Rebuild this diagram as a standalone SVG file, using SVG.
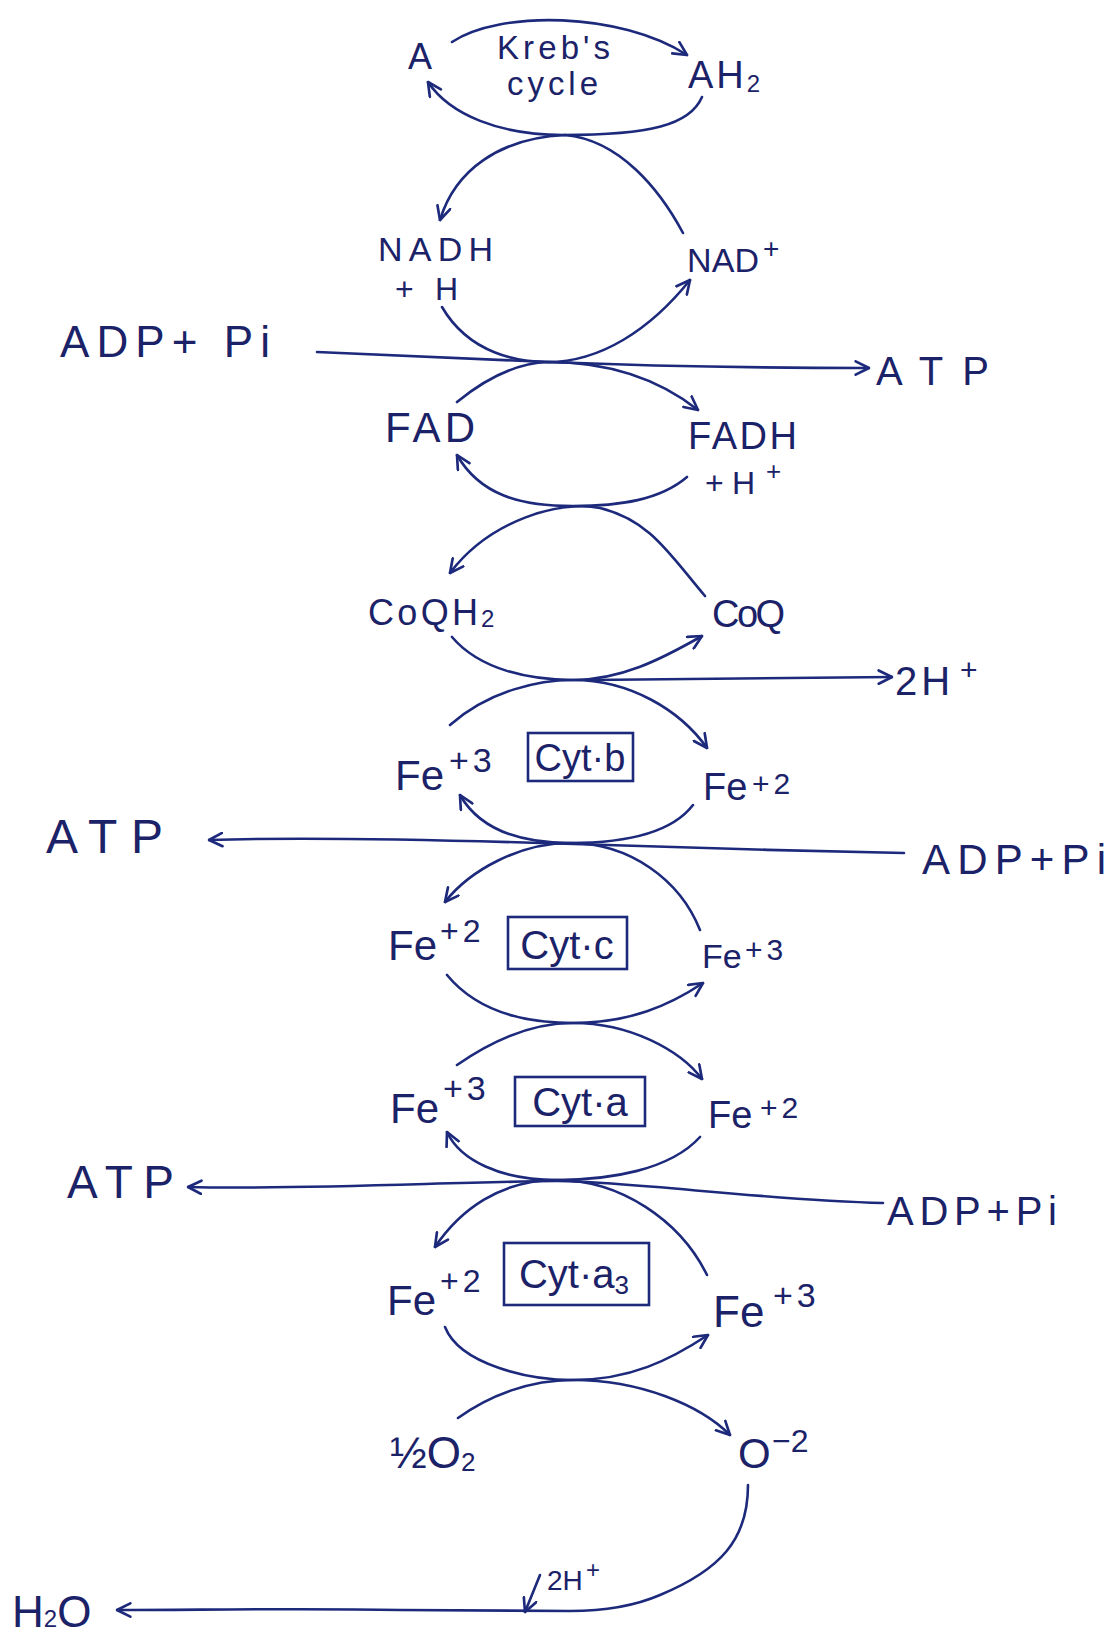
<svg xmlns="http://www.w3.org/2000/svg" width="1112" height="1640" viewBox="0 0 1112 1640">
<style>
  .t { font-family: "Liberation Sans", "DejaVu Sans", sans-serif; fill: #1b2268; }
  .s { letter-spacing: 4px; }
  .c { fill: none; stroke: #1d2a7c; stroke-width: 2.6; stroke-linecap: round; stroke-linejoin: round; }
  .box { fill: none; stroke: #1d2a7c; stroke-width: 2.6; }
</style>
<defs>
  <marker id="arr" viewBox="0 0 12 12" refX="11" refY="6" markerWidth="16" markerHeight="16" markerUnits="userSpaceOnUse" orient="auto">
    <path d="M1,1 L11,6 L1,11" fill="none" stroke="#1d2a7c" stroke-width="2" stroke-linecap="round" stroke-linejoin="round"/>
  </marker>
</defs>
<rect width="1112" height="1640" fill="#ffffff"/>

<g id="connectors">
  <path class="c" marker-end="url(#arr)" d="M452,42 C500,10 620,12 687,55"/>
  <path class="c" marker-end="url(#arr)" d="M702,97 C690,125 650,135 563,135 C500,135 450,115 428,82"/>
  <path class="c" marker-end="url(#arr)" d="M683,233 C660,190 620,140 565,135 C500,138 455,170 440,220"/>
  <path class="c" marker-end="url(#arr)" d="M442,307 C470,355 520,362 548,362 C600,362 650,330 690,280"/>
  <path class="c" marker-end="url(#arr)" d="M457,402 C490,375 520,363 548,362 C610,362 660,380 698,410"/>
  <path class="c" marker-end="url(#arr)" d="M317,352 C420,356 500,360 548,362 C650,366 760,368 869,368"/>
  <path class="c" marker-end="url(#arr)" d="M687,477 C660,500 620,506 573,506 C520,506 480,495 457,455"/>
  <path class="c" marker-end="url(#arr)" d="M705,596 C670,555 650,520 600,508 C560,500 490,520 450,573"/>
  <path class="c" marker-end="url(#arr)" d="M452,637 C480,670 530,680 573,680 C620,680 660,660 702,636"/>
  <path class="c" marker-end="url(#arr)" d="M590,680 L892,677"/>
  <path class="c" marker-end="url(#arr)" d="M450,725 C490,690 540,680 573,680 C630,680 680,710 707,748"/>
  <path class="c" marker-end="url(#arr)" d="M693,805 C670,835 620,843 570,843 C520,843 480,830 460,795"/>
  <path class="c" marker-end="url(#arr)" d="M700,930 C680,880 630,843 570,843 C520,843 470,870 445,902"/>
  <path class="c" marker-end="url(#arr)" d="M904,853 C800,851 660,847 574,844 C450,840 300,837 209,840"/>
  <path class="c" marker-end="url(#arr)" d="M447,975 C480,1015 530,1023 573,1023 C630,1023 670,1005 703,983"/>
  <path class="c" marker-end="url(#arr)" d="M457,1065 C500,1035 540,1023 573,1023 C630,1023 680,1050 702,1079"/>
  <path class="c" marker-end="url(#arr)" d="M700,1137 C670,1170 610,1180 557,1180 C500,1180 460,1160 447,1132"/>
  <path class="c" marker-end="url(#arr)" d="M883,1203 C760,1200 640,1182 557,1181 C450,1182 300,1190 188,1187"/>
  <path class="c" marker-end="url(#arr)" d="M707,1275 C680,1220 620,1180 557,1180 C500,1180 460,1210 435,1247"/>
  <path class="c" marker-end="url(#arr)" d="M445,1327 C460,1365 530,1380 573,1380 C630,1380 670,1360 708,1335"/>
  <path class="c" marker-end="url(#arr)" d="M458,1418 C490,1395 530,1380 573,1380 C640,1380 700,1405 730,1435"/>
  <path class="c" marker-end="url(#arr)" d="M748,1485 C748,1540 720,1570 660,1595 C630,1608 600,1611 570,1611 L400,1610 C300,1608 200,1610 117,1610"/>
  <path class="c" marker-end="url(#arr)" d="M540,1575 L525,1612"/>
</g>

<g id="node-A"><text class="t" x="408" y="69" font-size="36">A</text></g>
<g id="node-krebs">
  <text class="t" x="497" y="59" font-size="33" textLength="113">Kreb's</text>
  <text class="t" x="507" y="95" font-size="33" textLength="91">cycle</text>
</g>
<g id="node-AH2"><text class="t" x="688" y="88" font-size="38" letter-spacing="3">AH<tspan font-size="24" dy="4">2</tspan></text></g>
<g id="node-NADH">
  <text class="t" x="378" y="261" font-size="34" textLength="115">NADH</text>
  <text class="t" x="395" y="300" font-size="32" textLength="63">+H</text>
</g>
<g id="node-NAD"><text class="t" x="687" y="272" font-size="34" textLength="72">NAD</text><text class="t" x="763" y="258" font-size="28">+</text></g>
<g id="node-ADPPi-1"><text class="t" x="60" y="357" font-size="44" textLength="210">ADP+ Pi</text></g>
<g id="node-ATP-1"><text class="t" x="876" y="385" font-size="40" textLength="113">ATP</text></g>
<g id="node-FAD"><text class="t" x="385" y="442" font-size="42" textLength="90">FAD</text></g>
<g id="node-FADH">
  <text class="t" x="688" y="449" font-size="38" textLength="109">FADH</text>
  <text class="t" x="705" y="494" font-size="32" textLength="50">+H</text><text class="t" x="766" y="480" font-size="26">+</text>
</g>
<g id="node-CoQH2"><text class="t" x="368" y="625" font-size="36" textLength="110">CoQH</text><text class="t" x="481" y="627" font-size="24">2</text></g>
<g id="node-CoQ"><text class="t" x="712" y="627" font-size="38" textLength="73">CoQ</text></g>
<g id="node-2H-1"><text class="t" x="895" y="695" font-size="40" letter-spacing="4">2H</text><text class="t" x="960" y="680" font-size="30">+</text></g>

<g id="node-cytb">
  <text class="t" x="395" y="790" font-size="42">Fe</text><text class="t s" x="449" y="772" font-size="34">+3</text>
  <rect class="box" x="528" y="733" width="105" height="48"/>
  <text class="t" x="580" y="771" font-size="38" text-anchor="middle">Cyt·b</text>
  <text class="t" x="703" y="800" font-size="38">Fe</text><text class="t s" x="752" y="794" font-size="30">+2</text>
</g>
<g id="node-ATP-2"><text class="t" x="46" y="853" font-size="48" textLength="117">ATP</text></g>
<g id="node-ADPPi-2"><text class="t" x="922" y="874" font-size="42" textLength="184">ADP+Pi</text></g>

<g id="node-cytc">
  <text class="t" x="388" y="960" font-size="42">Fe</text><text class="t s" x="440" y="942" font-size="32">+2</text>
  <rect class="box" x="508" y="917" width="119" height="52"/>
  <text class="t" x="567" y="959" font-size="40" text-anchor="middle">Cyt·c</text>
  <text class="t" x="702" y="968" font-size="34">Fe</text><text class="t s" x="745" y="960" font-size="30">+3</text>
</g>

<g id="node-cyta">
  <text class="t" x="390" y="1123" font-size="42">Fe</text><text class="t s" x="443" y="1100" font-size="34">+3</text>
  <rect class="box" x="515" y="1077" width="130" height="49"/>
  <text class="t" x="580" y="1116" font-size="40" text-anchor="middle">Cyt·a</text>
  <text class="t" x="708" y="1128" font-size="38">Fe</text><text class="t s" x="760" y="1118" font-size="30">+2</text>
</g>
<g id="node-ATP-3"><text class="t" x="67" y="1198" font-size="46" textLength="107">ATP</text></g>
<g id="node-ADPPi-3"><text class="t" x="887" y="1225" font-size="40" textLength="170">ADP+Pi</text></g>

<g id="node-cyta3">
  <text class="t" x="387" y="1315" font-size="42">Fe</text><text class="t s" x="440" y="1292" font-size="32">+2</text>
  <rect class="box" x="504" y="1243" width="145" height="62"/>
  <text class="t" x="574" y="1288" font-size="40" text-anchor="middle">Cyt·a<tspan font-size="26" dy="6">3</tspan></text>
  <text class="t" x="713" y="1327" font-size="44">Fe</text><text class="t s" x="773" y="1307" font-size="34">+3</text>
</g>

<g id="node-O2"><text class="t" x="390" y="1468" font-size="44">½O<tspan font-size="26" dy="3">2</tspan></text></g>
<g id="node-O2minus"><text class="t" x="738" y="1468" font-size="42">O</text><text class="t" x="772" y="1452" font-size="32">−2</text></g>
<g id="node-2H-2"><text class="t" x="547" y="1590" font-size="28">2H</text><text class="t" x="586" y="1578" font-size="24">+</text></g>
<g id="node-H2O"><text class="t" x="12" y="1627" font-size="44">H<tspan font-size="24">2</tspan>O</text></g>
</svg>
